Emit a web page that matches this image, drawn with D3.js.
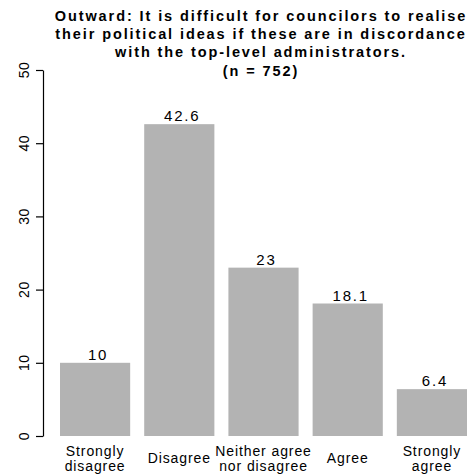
<!DOCTYPE html>
<html><head><meta charset="utf-8">
<script src="https://cdn.jsdelivr.net/npm/d3@7"></script>
<style>body{margin:0;background:#fff} text{font-family:"Liberation Sans",Arial,Helvetica,sans-serif;fill:#000}</style>
</head><body><svg id="c" width="475" height="474"></svg>
<script>
const categories = [["Strongly","disagree"],["Disagree"],["Neither agree","nor disagree"],["Agree"],["Strongly","agree"]];
const values = [10, 42.6, 23, 18.1, 6.4];
const valueLabels = ["10","42.6","23","18.1","6.4"];
const yTicks = [0,10,20,30,40,50];
const titleLines = ["Outward: It is difficult for councilors to realise","their political ideas if these are in discordance","with the top-level administrators.","(n = 752)"];

const svg = d3.select("#c");
const x = d3.scaleBand().domain(d3.range(values.length)).range([60,467]).paddingInner(0.1667).paddingOuter(0);
const y = d3.scaleLinear().domain([0,50]).range([436,70]);

// bars
svg.append("g").selectAll("rect").data(values).join("rect")
  .attr("x",(d,i)=>x(i)).attr("width",x.bandwidth())
  .attr("y",d=>y(d)).attr("height",d=>y(0)-y(d))
  .attr("fill","#b3b3b3");

// value labels
svg.append("g").selectAll("text").data(values).join("text")
  .attr("x",(d,i)=>x(i)+x.bandwidth()/2+3).attr("y",d=>y(d)-3)
  .attr("text-anchor","middle").attr("font-size",15).style("letter-spacing","1.8px")
  .text((d,i)=>valueLabels[i]);

// y axis
const ax = svg.append("g").attr("transform","translate(43,0)")
  .call(d3.axisLeft(y).tickValues(yTicks).tickSize(7).tickSizeOuter(0).tickFormat(""));
ax.select(".domain").attr("stroke","#000").attr("stroke-width",1.2);
ax.selectAll(".tick line").attr("stroke","#000").attr("stroke-width",1.2);
svg.append("g").selectAll("text").data(yTicks).join("text")
  .attr("transform",d=>`translate(29,${y(d)}) rotate(-90)`)
  .attr("text-anchor","middle").attr("font-size",14).style("letter-spacing","0.5px")
  .text(d=>d);

// x labels
const xl = svg.append("g").selectAll("text").data(categories).join("text")
  .attr("text-anchor","middle").attr("font-size",14).style("letter-spacing","0.9px")
  .attr("transform",(d,i)=>`translate(${x(i)+x.bandwidth()/2},0)`);
xl.selectAll("tspan").data(d=>d.map((s,j)=>({s,j,n:d.length}))).join("tspan")
  .attr("x",0).attr("y",d=>d.n===1?463:456+14.5*d.j).text(d=>d.s);

// title
svg.append("g").selectAll("text").data(titleLines).join("text")
  .attr("x",261).attr("y",(d,i)=>[21,39,57,76][i])
  .attr("text-anchor","middle").attr("font-size",14.5).attr("font-weight","bold")
  .style("letter-spacing","1.9px").text(d=>d);
</script></body></html>
